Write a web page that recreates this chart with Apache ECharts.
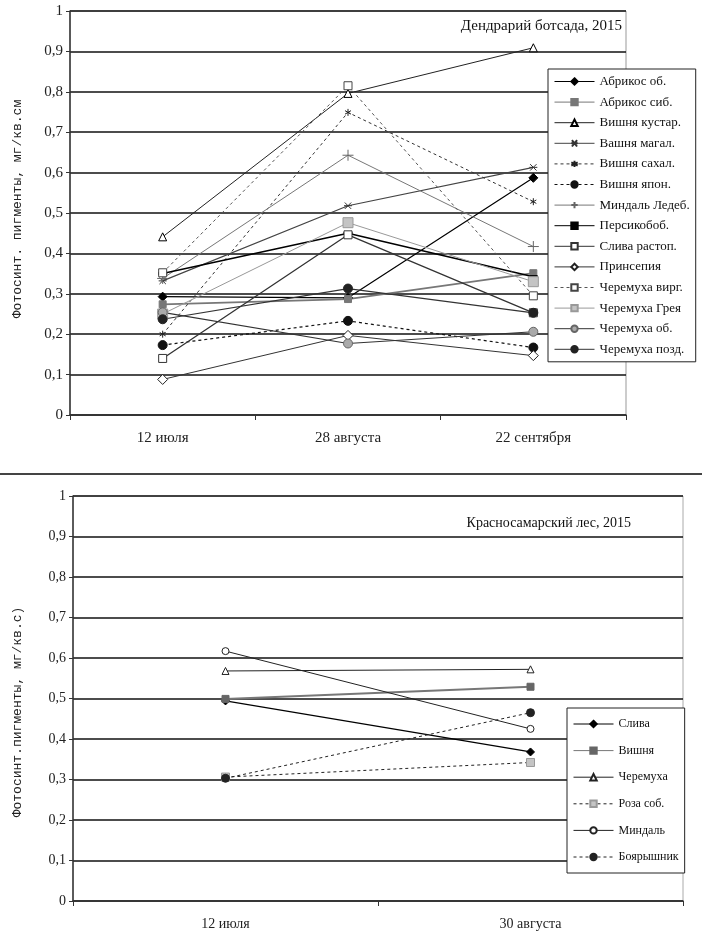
<!DOCTYPE html>
<html>
<head>
<meta charset="utf-8">
<script src="https://cdn.jsdelivr.net/npm/echarts@6/dist/echarts.min.js"></script>
<style>html,body{margin:0;padding:0;background:#fff;}#c{width:702px;height:935px;}</style>
</head>
<body>
<div id="c"></div>
<script>
// ---------- DATA: top chart ----------
const topCategories = ['12 июля', '28 августа', '22 сентября'];
const topNames = ['Абрикос об.', 'Абрикос сиб.', 'Вишня кустар.', 'Вашня магал.', 'Вишня сахал.', 'Вишня япон.', 'Миндаль Ледеб.', 'Персикобоб.', 'Слива растоп.', 'Принсепия', 'Черемуха вирг.', 'Черемуха Грея', 'Черемуха об.', 'Черемуха позд.'];
const abrikosOb = [0.293, 0.29, 0.587];
const abrikosSib = [0.274, 0.287, 0.351];
const vishnyaKustar = [0.441, 0.796, 0.909];
const vishnyaMagal = [0.332, 0.518, 0.613];
const vishnyaSakhal = [0.2, 0.749, 0.528];
const vishnyaYapon = [0.173, 0.233, 0.167];
const mindalLedeb = [0.338, 0.643, 0.417];
const persikobob = [0.35, 0.45, 0.342];
const slivaRastop = [0.14, 0.446, 0.253];
const prinsepiya = [0.088, 0.197, 0.147];
const cheremukhaVirg = [0.352, 0.815, 0.295];
const cheremukhaGreya = [0.25, 0.476, 0.33];
const cheremukhaOb = [0.254, 0.177, 0.206];
const cheremukhaPozd = [0.237, 0.313, 0.253];
const topValues = [abrikosOb, abrikosSib, vishnyaKustar, vishnyaMagal, vishnyaSakhal, vishnyaYapon, mindalLedeb, persikobob, slivaRastop, prinsepiya, cheremukhaVirg, cheremukhaGreya, cheremukhaOb, cheremukhaPozd];
const topTitle = 'Дендрарий ботсада, 2015';
const topAxisName = 'Фотосинт. пигменты, мг/кв.см';

// ---------- DATA: bottom chart ----------
const bottomCategories = ['12 июля', '30 августа'];
const bottomNames = ['Слива', 'Вишня', 'Черемуха', 'Роза соб.', 'Миндаль', 'Боярышник'];
const sliva = [0.494, 0.368];
const vishnya = [0.499, 0.529];
const cheremukha = [0.568, 0.572];
const rozaSob = [0.306, 0.342];
const mindal = [0.617, 0.425];
const boyaryshnik = [0.303, 0.465];
const bottomValues = [sliva, vishnya, cheremukha, rozaSob, mindal, boyaryshnik];
const bottomTitle = 'Красносамарский лес, 2015';
const bottomAxisName = 'Фотосинт.пигменты, мг/кв.с)';

// ---------- STYLES ----------
const P_PLUS = 'path://M5,0L5,10M0,5L10,5';
const P_STAR = 'path://M5,0L5,10M0.7,2.5L9.3,7.5M0.7,7.5L9.3,2.5';
const P_XBAR = 'path://M1,1L9,9M1,9L9,1M0,5L10,5';
const P_XBOX = 'path://M0,0L10,0L10,10L0,10Z';
const P_DASH = 'path://M0,0L10,0L10,3L0,3Z';
const S = (symbol, size, fill, border, lineColor, lineWidth, dashed) => ({symbol, size, fill, border, lineColor, lineWidth, dashed});
const topStyles = [
  S('diamond', 9, '#000', '#000', '#000', 1.2, false),
  S('rect', 7, '#777', '#777', '#777', 1.8, false),
  S('triangle', 8, '#fff', '#000', '#222', 1, false),
  S(P_XBAR, 8, '#333', '#333', '#444', 1.2, false),
  S(P_STAR, 7, '#222', '#222', '#333', 1, true),
  S('circle', 9, '#111', '#111', '#111', 1.2, true),
  S(P_PLUS, 11, '#666', '#666', '#777', 1, false),
  S(P_DASH, 8, '#000', '#000', '#000', 1.5, false),
  S('rect', 8, '#fff', '#333', '#333', 1.3, false),
  S('diamond', 10, '#fff', '#222', '#333', 1, false),
  S('rect', 8, '#fff', '#444', '#555', 1, true),
  S(P_XBOX, 10, '#c4c4c4', '#999', '#999', 1, false),
  S('circle', 9, '#aaa', '#666', '#333', 1.2, false),
  S('circle', 9, '#222', '#222', '#333', 1.2, false)
];
const bottomStyles = [
  S('diamond', 8, '#000', '#000', '#000', 1.2, false),
  S('rect', 7, '#666', '#666', '#777', 2, false),
  S('triangle', 7, '#fff', '#222', '#222', 1, false),
  S(P_XBOX, 8, '#c4c4c4', '#999', '#222', 1, true),
  S('circle', 7, '#fff', '#222', '#222', 1, false),
  S('circle', 8, '#222', '#222', '#222', 1, true)
];

function makeSeries(names, values, styles, idx) {
  return names.map((n, i) => {
    const st = styles[i];
    return {
      name: n, type: 'line', xAxisIndex: idx, yAxisIndex: idx,
      data: values[i],
      symbol: st.symbol, symbolSize: st.size, symbolKeepAspect: true, showAllSymbol: true,
      lineStyle: {color: st.lineColor, width: st.lineWidth, type: st.dashed ? [3, 3] : 'solid'},
      itemStyle: {color: st.fill, borderColor: st.border, borderWidth: 1},
      emphasis: {disabled: true},
      z: 3
    };
  });
}

const serif = 'Liberation Serif';
const fmt = v => String(Math.round(v * 10) / 10).replace('.', ',');

function xAx(cats, idx, fs) {
  return {
    type: 'category', gridIndex: idx, data: cats, boundaryGap: true,
    axisLine: {lineStyle: {color: '#333', width: 1.5}},
    axisTick: {show: true, length: 5, lineStyle: {color: '#333'}},
    axisLabel: {color: '#222', fontFamily: serif, fontSize: fs, margin: 16}
  };
}
function yAx(idx, fs) {
  return {
    type: 'value', gridIndex: idx, min: 0, max: 1, interval: 0.1,
    axisLine: {show: true, lineStyle: {color: '#333', width: 1.5}},
    axisTick: {show: true, length: 4, lineStyle: {color: '#333'}},
    axisLabel: {color: '#222', fontFamily: serif, fontSize: fs, margin: 7, formatter: fmt},
    splitLine: {show: true, lineStyle: {color: '#111', width: 1.5}}
  };
}

const chart = echarts.init(document.getElementById('c'), null, {renderer: 'canvas'});
chart.setOption({
  animation: false,
  backgroundColor: '#fff',
  grid: [
    {left: 70, top: 11, width: 556, height: 404, show: true, borderColor: '#999', borderWidth: 1, backgroundColor: 'transparent'},
    {left: 73, top: 496, width: 610, height: 405, show: true, borderColor: '#aaa', borderWidth: 1, backgroundColor: 'transparent'}
  ],
  xAxis: [xAx(topCategories, 0, 15), xAx(bottomCategories, 1, 14)],
  yAxis: [yAx(0, 15), yAx(1, 14)],
  legend: [
    {
      data: topNames, orient: 'vertical', left: 548, top: 69,
      padding: [6, 6, 6, 6], itemGap: 7.6, itemWidth: 40, itemHeight: 8,
      symbolKeepAspect: true,
      backgroundColor: '#fff', borderColor: '#222', borderWidth: 1,
      lineStyle: {width: 1},
      textStyle: {fontFamily: serif, fontSize: 13, color: '#111'},
      selectedMode: false
    },
    {
      data: bottomNames, orient: 'vertical', left: 567, top: 708,
      padding: [10, 6, 10, 6], itemGap: 14.6, itemWidth: 40, itemHeight: 8,
      symbolKeepAspect: true,
      backgroundColor: '#fff', borderColor: '#222', borderWidth: 1,
      lineStyle: {width: 1},
      textStyle: {fontFamily: serif, fontSize: 12, color: '#111'},
      selectedMode: false
    }
  ],
  graphic: [
    {type: 'text', x: 622, y: 26, style: {text: topTitle, font: '15px "Liberation Serif"', fill: '#111', align: 'right', verticalAlign: 'middle'}},
    {type: 'text', x: 631, y: 523, style: {text: bottomTitle, font: '14px "Liberation Serif"', fill: '#111', align: 'right', verticalAlign: 'middle'}},
    {type: 'text', x: 18, y: 209, rotation: Math.PI / 2, style: {text: topAxisName, font: '13px "Liberation Mono"', fill: '#222', align: 'center', verticalAlign: 'middle'}},
    {type: 'text', x: 18, y: 712, rotation: Math.PI / 2, style: {text: bottomAxisName, font: '13px "Liberation Mono"', fill: '#222', align: 'center', verticalAlign: 'middle'}},
    {type: 'line', shape: {x1: 0, y1: 474, x2: 702, y2: 474}, style: {stroke: '#444', lineWidth: 2}}
  ],
  series: makeSeries(topNames, topValues, topStyles, 0).concat(makeSeries(bottomNames, bottomValues, bottomStyles, 1))
});
</script>
</body>
</html>
